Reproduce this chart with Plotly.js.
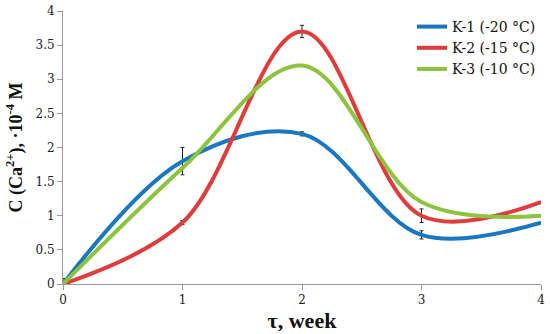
<!DOCTYPE html>
<html><head><meta charset="utf-8">
<script src="https://cdn.plot.ly/plotly-3.0.1.min.js"></script>
<style>html,body{margin:0;padding:0;background:#fff}</style>
</head><body><div id="chart" style="width:550px;height:334px"></div>
<script>
const weeks = [0, 1, 2, 3, 4];
const k1 = [0, 1.8, 2.2, 0.72, 0.9];
const k2 = [0, 0.9, 3.7, 1.0, 1.2];
const k3 = [0, 1.7, 3.2, 1.2, 1.0];
const k1Err = [0.08, 0.2, 0.03, 0.06, 0];
const k2Err = [0, 0.03, 0.09, 0.1, 0];
const names = ['K-1 (-20 °C)', 'K-2 (-15 °C)', 'K-3 (-10 °C)'];
const xTicks = [0, 1, 2, 3, 4];
const yTicks = [0, 0.5, 1, 1.5, 2, 2.5, 3, 3.5, 4];

const serif = 'Times New Roman, Liberation Serif, serif';
const serif2 = 'DejaVu Serif';
function tr(y, name, color, err) {
  const t = {x: weeks, y: y, name: name, mode: 'lines', type: 'scatter',
    line: {color: color, width: 4, shape: 'spline', smoothing: 1}};
  if (err) t.error_y = {type: 'data', array: err, visible: true, color: '#222', thickness: 1, width: 2};
  return t;
}
const data = [
  tr(k1, names[0], '#1a78c2', k1Err),
  tr(k2, names[1], '#e03c3c', k2Err),
  tr(k3, names[2], '#8cc43e', null)
];
const layout = {
  width: 550, height: 334,
  margin: {l: 63, r: 9, t: 11, b: 50, autoexpand: false},
  paper_bgcolor: '#fff', plot_bgcolor: '#fff',
  font: {family: serif},
  showlegend: true,
  legend: {x: 1.0, xanchor: 'right', y: 1.0, yanchor: 'top', bgcolor: 'rgba(0,0,0,0)',
    font: {family: serif2, size: 14, color: '#111'}, itemwidth: 30, tracegroupgap: 0},
  xaxis: {range: [0, 4], tickvals: xTicks, ticktext: xTicks.map(String), showgrid: false, zeroline: false,
    showline: true, linecolor: '#999', linewidth: 1, ticks: 'outside', ticklen: 5, tickcolor: '#999',
    tickfont: {family: serif2, size: 12, color: '#222'},
    title: {text: '<b>τ, week</b>', font: {family: serif, size: 22, color: '#111'}, standoff: 6}},
  yaxis: {range: [0, 4], tickvals: yTicks, ticktext: yTicks.map(String), showgrid: false, zeroline: false,
    showline: true, linecolor: '#999', linewidth: 1, ticks: 'outside', ticklen: 5, tickcolor: '#999',
    tickfont: {family: serif2, size: 12, color: '#222'},
    title: {text: '<b>C (Ca<sup>2+</sup>), ·10<sup>-4</sup> M</b>', font: {family: serif, size: 18, color: '#111'}, standoff: 8}}
};
Plotly.newPlot('chart', data, layout, {displayModeBar: false, staticPlot: true});
</script></body></html>
